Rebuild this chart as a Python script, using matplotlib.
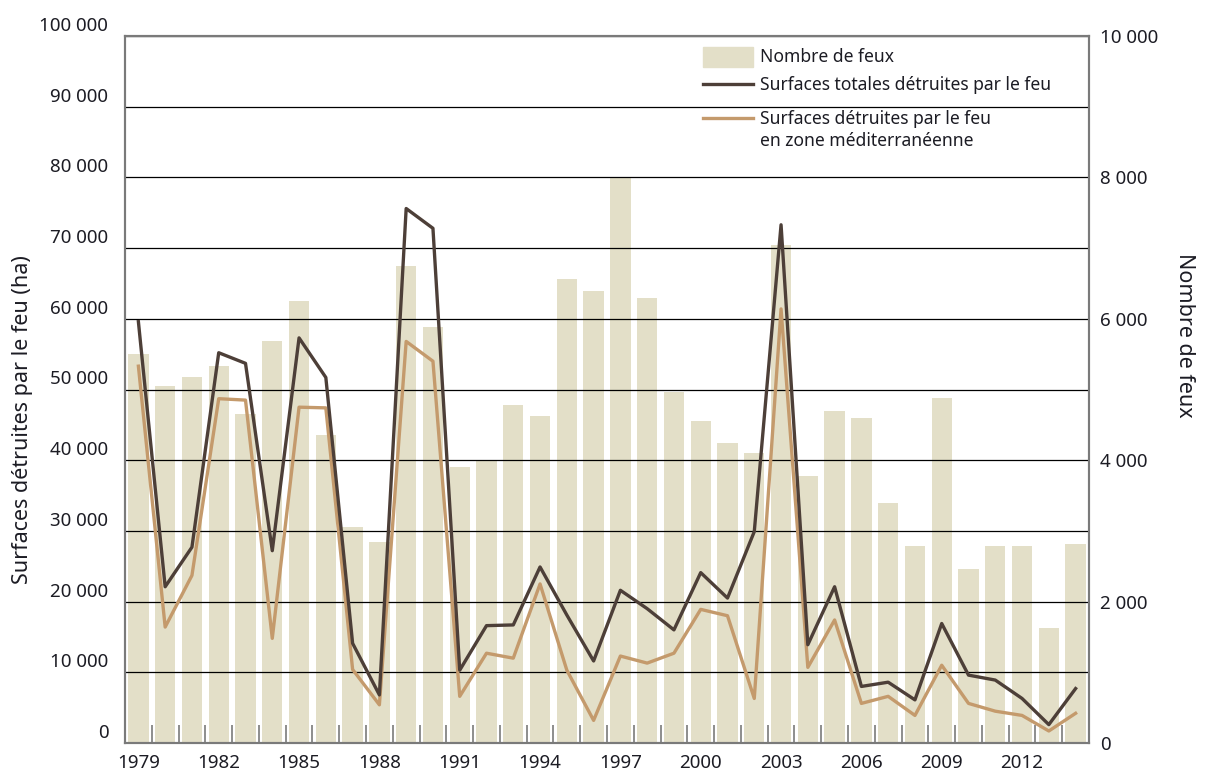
import numpy as np
import matplotlib
matplotlib.use("Agg")
import matplotlib.pyplot as plt
import matplotlib.transforms as mtransforms
from matplotlib.patches import Rectangle
from matplotlib.lines import Line2D
from matplotlib.ticker import FixedLocator, FuncFormatter

plt.rcParams['font.family'] = ['Noto Sans', 'DejaVu Sans']

years = list(range(1979, 2015))

# nombre de feux (axe droit)
nb_feux = [5500, 5050, 5170, 5330, 4660, 5680, 6250, 4360, 3050, 2840,
           6750, 5890, 3900, 4000, 4780, 4620, 6560, 6400, 8010, 6290,
           4960, 4560, 4250, 4100, 7040, 3770, 4700, 4600, 3400, 2790,
           4880, 2460, 2790, 2790, 1620, 2810]

# surfaces totales detruites (ha, axe gauche)
surf_tot = [59600, 22100, 27700, 55200, 53700, 27200, 57300, 51700, 14100, 6800,
            75600, 72800, 10300, 16600, 16700, 24900, 18100, 11600, 21600, 19000,
            16000, 24100, 20500, 29900, 73300, 13900, 22100, 8000, 8600, 6100,
            16900, 9600, 8900, 6300, 2600, 7700]

# surfaces detruites en zone mediterraneenne
surf_med = [53300, 16400, 23700, 48700, 48500, 14800, 47500, 47400, 10400, 5400,
            56800, 54000, 6600, 12700, 12000, 22500, 10300, 3200, 12300, 11300,
            12700, 18900, 18000, 6300, 61400, 10700, 17400, 5600, 6600, 3900,
            11000, 5600, 4500, 3900, 1700, 4200]

c_bar = '#e3dfc8'
c_tot = '#4d3f38'
c_med = '#c49a6c'
c_txt = '#1c1c24'
c_spine = '#7a7a7a'

def fmt_thousands(v, pos):
    return '{:,}'.format(int(v)).replace(',', ' ')

fig = plt.figure(figsize=(12.05, 7.73), dpi=100)
ax = fig.add_axes([125/1205, 30/773, 964/1205, 707/773])
axr = ax.twinx()
ax.set_zorder(axr.get_zorder() + 1)
ax.patch.set_visible(False)

x = np.arange(len(years))

# barres (axe droit)
axr.bar(x, nb_feux, width=0.76, color=c_bar, zorder=1)
axr.set_ylim(0, 10000)
axr.yaxis.set_major_locator(FixedLocator(np.arange(0, 10001, 2000)))
axr.yaxis.set_minor_locator(FixedLocator(np.arange(0, 10001, 1000)))
axr.yaxis.set_major_formatter(FuncFormatter(fmt_thousands))
axr.set_axisbelow(False)
axr.grid(True, which='both', axis='y', color='black', linewidth=0.9)
axr.tick_params(axis='y', which='both', length=0, pad=8, labelsize=13.5, labelcolor=c_txt)
axr.set_ylabel("Nombre de feux", rotation=-90, fontsize=15.5, color=c_txt)
axr.yaxis.set_label_coords(1.110, 0.577)

# courbes (axe gauche)
ax.plot(x, surf_tot, color=c_tot, linewidth=2.4, zorder=3)
ax.plot(x, surf_med, color=c_med, linewidth=2.4, zorder=2)
ax.set_ylim(0, 100000)
ax.set_xlim(-0.5, len(years) - 0.5)
ax.yaxis.set_major_locator(FixedLocator(np.arange(0, 100001, 10000)))
ax.yaxis.set_major_formatter(FuncFormatter(fmt_thousands))
ax.tick_params(axis='y', length=0, pad=12, labelsize=13.5, labelcolor=c_txt)
ax.set_ylabel("Surfaces détruites par le feu (ha)", fontsize=15.5, color=c_txt)
ax.yaxis.set_label_coords(-0.095, 0.457)

# labels gauche decales vers le haut
offset = mtransforms.ScaledTranslation(0, 12/100, fig.dpi_scale_trans)
for lab in ax.get_yticklabels():
    lab.set_transform(lab.get_transform() + offset)

ax.set_xticks(x[::3])
ax.set_xticklabels([str(y) for y in years[::3]])
ax.set_xticks(np.arange(-0.5, len(years)), minor=True)
ax.tick_params(axis='x', which='major', length=0, pad=8, labelsize=13.5, labelcolor=c_txt)
ax.tick_params(axis='x', which='minor', direction='in', length=13, width=1.2, color=c_spine)
axr.tick_params(axis='x', length=0)

for a in (ax, axr):
    for s in a.spines.values():
        s.set_color(c_spine)
        s.set_linewidth(1.5)

# legende
ax.add_patch(Rectangle((0.600, 0.956), 0.051, 0.028, transform=ax.transAxes,
                       color=c_bar, clip_on=False))
ax.add_line(Line2D([0.600, 0.651], [0.932, 0.932], transform=ax.transAxes,
                   color=c_tot, linewidth=2.4))
ax.add_line(Line2D([0.600, 0.651], [0.884, 0.884], transform=ax.transAxes,
                   color=c_med, linewidth=2.4))
ax.text(0.659, 0.970, "Nombre de feux", transform=ax.transAxes, va='center',
        fontsize=12.6, color=c_txt)
ax.text(0.659, 0.931, "Surfaces totales détruites par le feu", transform=ax.transAxes,
        va='center', fontsize=12.6, color=c_txt)
ax.text(0.659, 0.896, "Surfaces détruites par le feu\nen zone méditerranéenne",
        transform=ax.transAxes, va='top', fontsize=12.6, color=c_txt, linespacing=1.3)

fig.savefig("out.png", dpi=100)
